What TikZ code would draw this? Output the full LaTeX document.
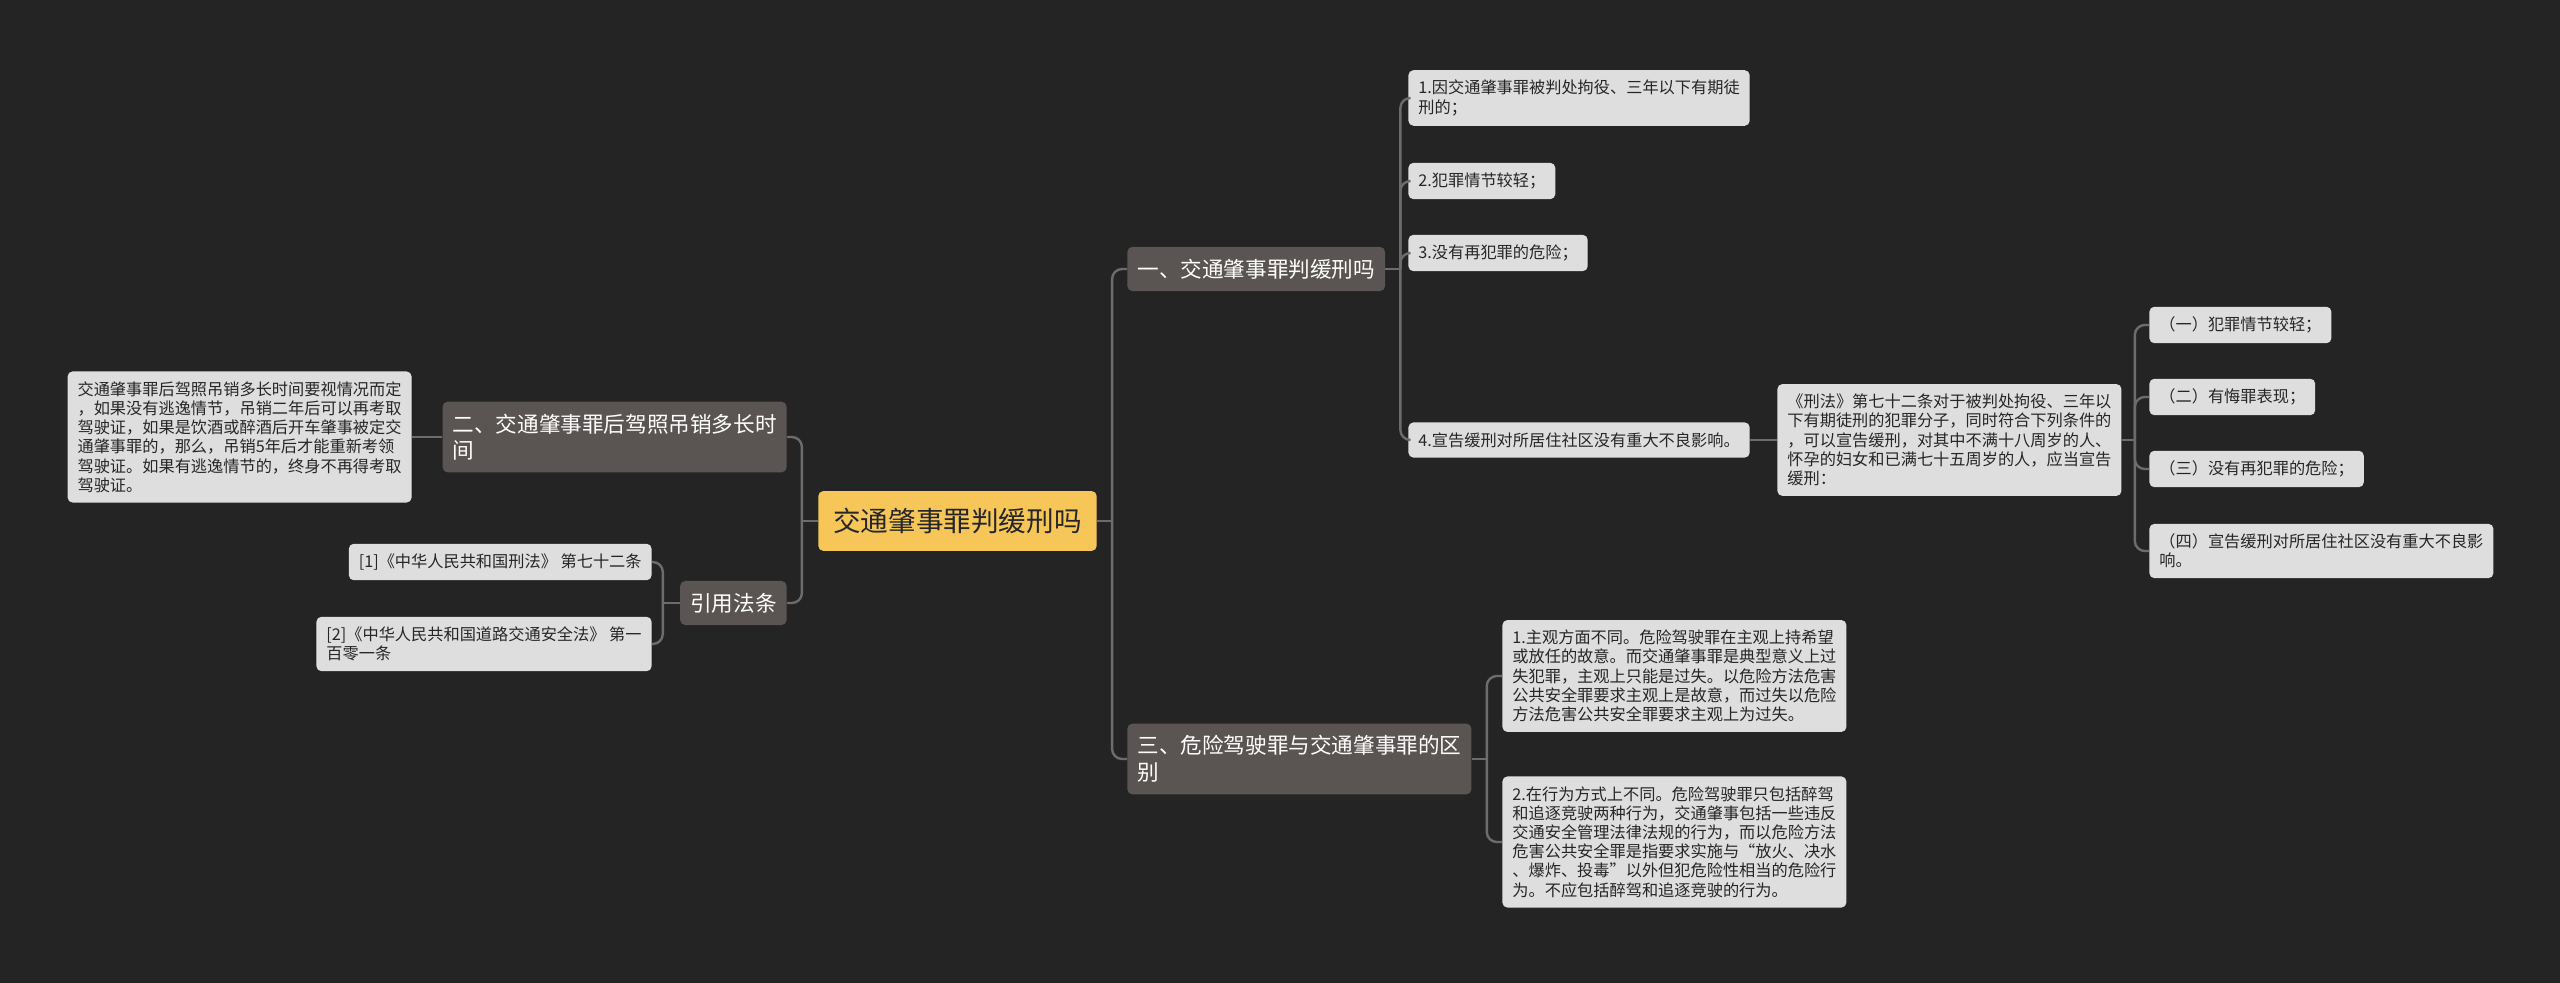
\documentclass[tikz,border=0pt]{standalone}
\usepackage{fontspec}
\setmainfont{Noto Sans CJK SC}
\usepackage{xcolor}
\usepackage{tikz}
\usetikzlibrary{positioning,calc}
\definecolor{mmBg}{HTML}{242424}
\definecolor{mmRoot}{HTML}{F6C758}
\definecolor{mmMain}{HTML}{5A5552}
\definecolor{mmLeaf}{HTML}{DEDEDE}
\definecolor{mmLine}{HTML}{6C6C6C}
\definecolor{mmInk}{HTML}{262626}

\begin{document}
\begin{tikzpicture}[x=0.5pt,y=-0.5pt,
  root/.style={fill=mmRoot,text=mmInk,rounded corners=2.5pt,inner xsep=7.5pt,inner ysep=8.5pt,
               font=\fontsize{13.8}{16}\selectfont},
  main/.style={fill=mmMain,text=white,rounded corners=2.5pt,align=left,inner xsep=5pt,inner ysep=6pt,
               font=\fontsize{10.8}{13.3}\selectfont},
  leaf/.style={fill=mmLeaf,text=mmInk,rounded corners=2.5pt,align=left,inner xsep=5pt,inner ysep=5pt,
               font=\fontsize{8.1}{9.6}\selectfont},
  ln/.style={draw=mmLine,line width=1.2pt,rounded corners=5pt}]

\fill[mmBg] (0,0) rectangle (2560,983);

\node[root] (root) at (957.5,521) {交通肇事罪判缓刑吗};

\node[main,anchor=west] (m1) at (1127,269) {一、交通肇事罪判缓刑吗};
\node[main,anchor=west] (m3) at (1127,759) {三、危险驾驶罪与交通肇事罪的区\\别};
\node[main,anchor=east] (m2) at (787,437) {二、交通肇事罪后驾照吊销多长时\\间};
\node[main,anchor=east] (mc) at (787,603) {引用法条};

\node[leaf,anchor=west] (a1) at (1408,98)  {1.因交通肇事罪被判处拘役、三年以下有期徒\\刑的；};
\node[leaf,anchor=west] (a2) at (1408,181) {2.犯罪情节较轻；};
\node[leaf,anchor=west] (a3) at (1408,253) {3.没有再犯罪的危险；};
\node[leaf,anchor=west] (a4) at (1408,440) {4.宣告缓刑对所居住社区没有重大不良影响。};

\node[leaf,anchor=west] (xf) at (1777,440) {《刑法》第七十二条对于被判处拘役、三年以\\下有期徒刑的犯罪分子，同时符合下列条件的\\，可以宣告缓刑，对其中不满十八周岁的人、\\怀孕的妇女和已满七十五周岁的人，应当宣告\\缓刑：};

\node[leaf,anchor=west] (s1) at (2149,325) {（一）犯罪情节较轻；};
\node[leaf,anchor=west] (s2) at (2149,397) {（二）有悔罪表现；};
\node[leaf,anchor=west] (s3) at (2149,469) {（三）没有再犯罪的危险；};
\node[leaf,anchor=west] (s4) at (2149,551) {（四）宣告缓刑对所居住社区没有重大不良影\\响。};

\node[leaf,anchor=west] (b1) at (1502,676) {1.主观方面不同。危险驾驶罪在主观上持希望\\或放任的故意。而交通肇事罪是典型意义上过\\失犯罪，主观上只能是过失。以危险方法危害\\公共安全罪要求主观上是故意，而过失以危险\\方法危害公共安全罪要求主观上为过失。};
\node[leaf,anchor=west] (b2) at (1502,842) {2.在行为方式上不同。危险驾驶罪只包括醉驾\\和追逐竞驶两种行为，交通肇事包括一些违反\\交通安全管理法律法规的行为，而以危险方法\\危害公共安全罪是指要求实施与“放火、决水\\、爆炸、投毒”以外但犯危险性相当的危险行\\为。不应包括醉驾和追逐竞驶的行为。};

\node[leaf,anchor=east] (d1) at (412,437) {交通肇事罪后驾照吊销多长时间要视情况而定\\，如果没有逃逸情节，吊销二年后可以再考取\\驾驶证，如果是饮酒或醉酒后开车肇事被定交\\通肇事罪的，那么，吊销5年后才能重新考领\\驾驶证。如果有逃逸情节的，终身不再得考取\\驾驶证。};

\node[leaf,anchor=east] (r1) at (652,562) {[1]《中华人民共和国刑法》 第七十二条};
\node[leaf,anchor=east] (r2) at (652,644) {[2]《中华人民共和国道路交通安全法》 第一\\百零一条};

\coordinate (jR) at ($(root.east)+(15,0)$);
\coordinate (jL) at ($(root.west)+(-16,0)$);
\coordinate (j1) at ($(m1.east)+(15,0)$);
\coordinate (j3) at ($(m3.east)+(15,0)$);
\coordinate (jX) at ($(xf.east)+(13,0)$);
\coordinate (jC) at ($(mc.west)+(-17,0)$);

\draw[ln] (root.east) -- (jR);
\draw[ln] (jR) |- (m1.west);
\draw[ln] (jR) |- (m3.west);
\draw[ln] (root.west) -- (jL);
\draw[ln] (jL) |- (m2.east);
\draw[ln] (jL) |- (mc.east);

\draw[ln] (m1.east) -- (j1);
\draw[ln] (j1) |- (a1.west);
\draw[ln] (j1) |- (a2.west);
\draw[ln] (j1) |- (a3.west);
\draw[ln] (j1) |- (a4.west);
\draw[ln] (a4.east) -- (xf.west);

\draw[ln] (xf.east) -- (jX);
\draw[ln] (jX) |- (s1.west);
\draw[ln] (jX) |- (s2.west);
\draw[ln] (jX) |- (s3.west);
\draw[ln] (jX) |- (s4.west);

\draw[ln] (m3.east) -- (j3);
\draw[ln] (j3) |- (b1.west);
\draw[ln] (j3) |- (b2.west);

\draw[ln] (m2.west) -- (d1.east);
\draw[ln] (mc.west) -- (jC);
\draw[ln] (jC) |- (r1.east);
\draw[ln] (jC) |- (r2.east);
\end{tikzpicture}
\end{document}
